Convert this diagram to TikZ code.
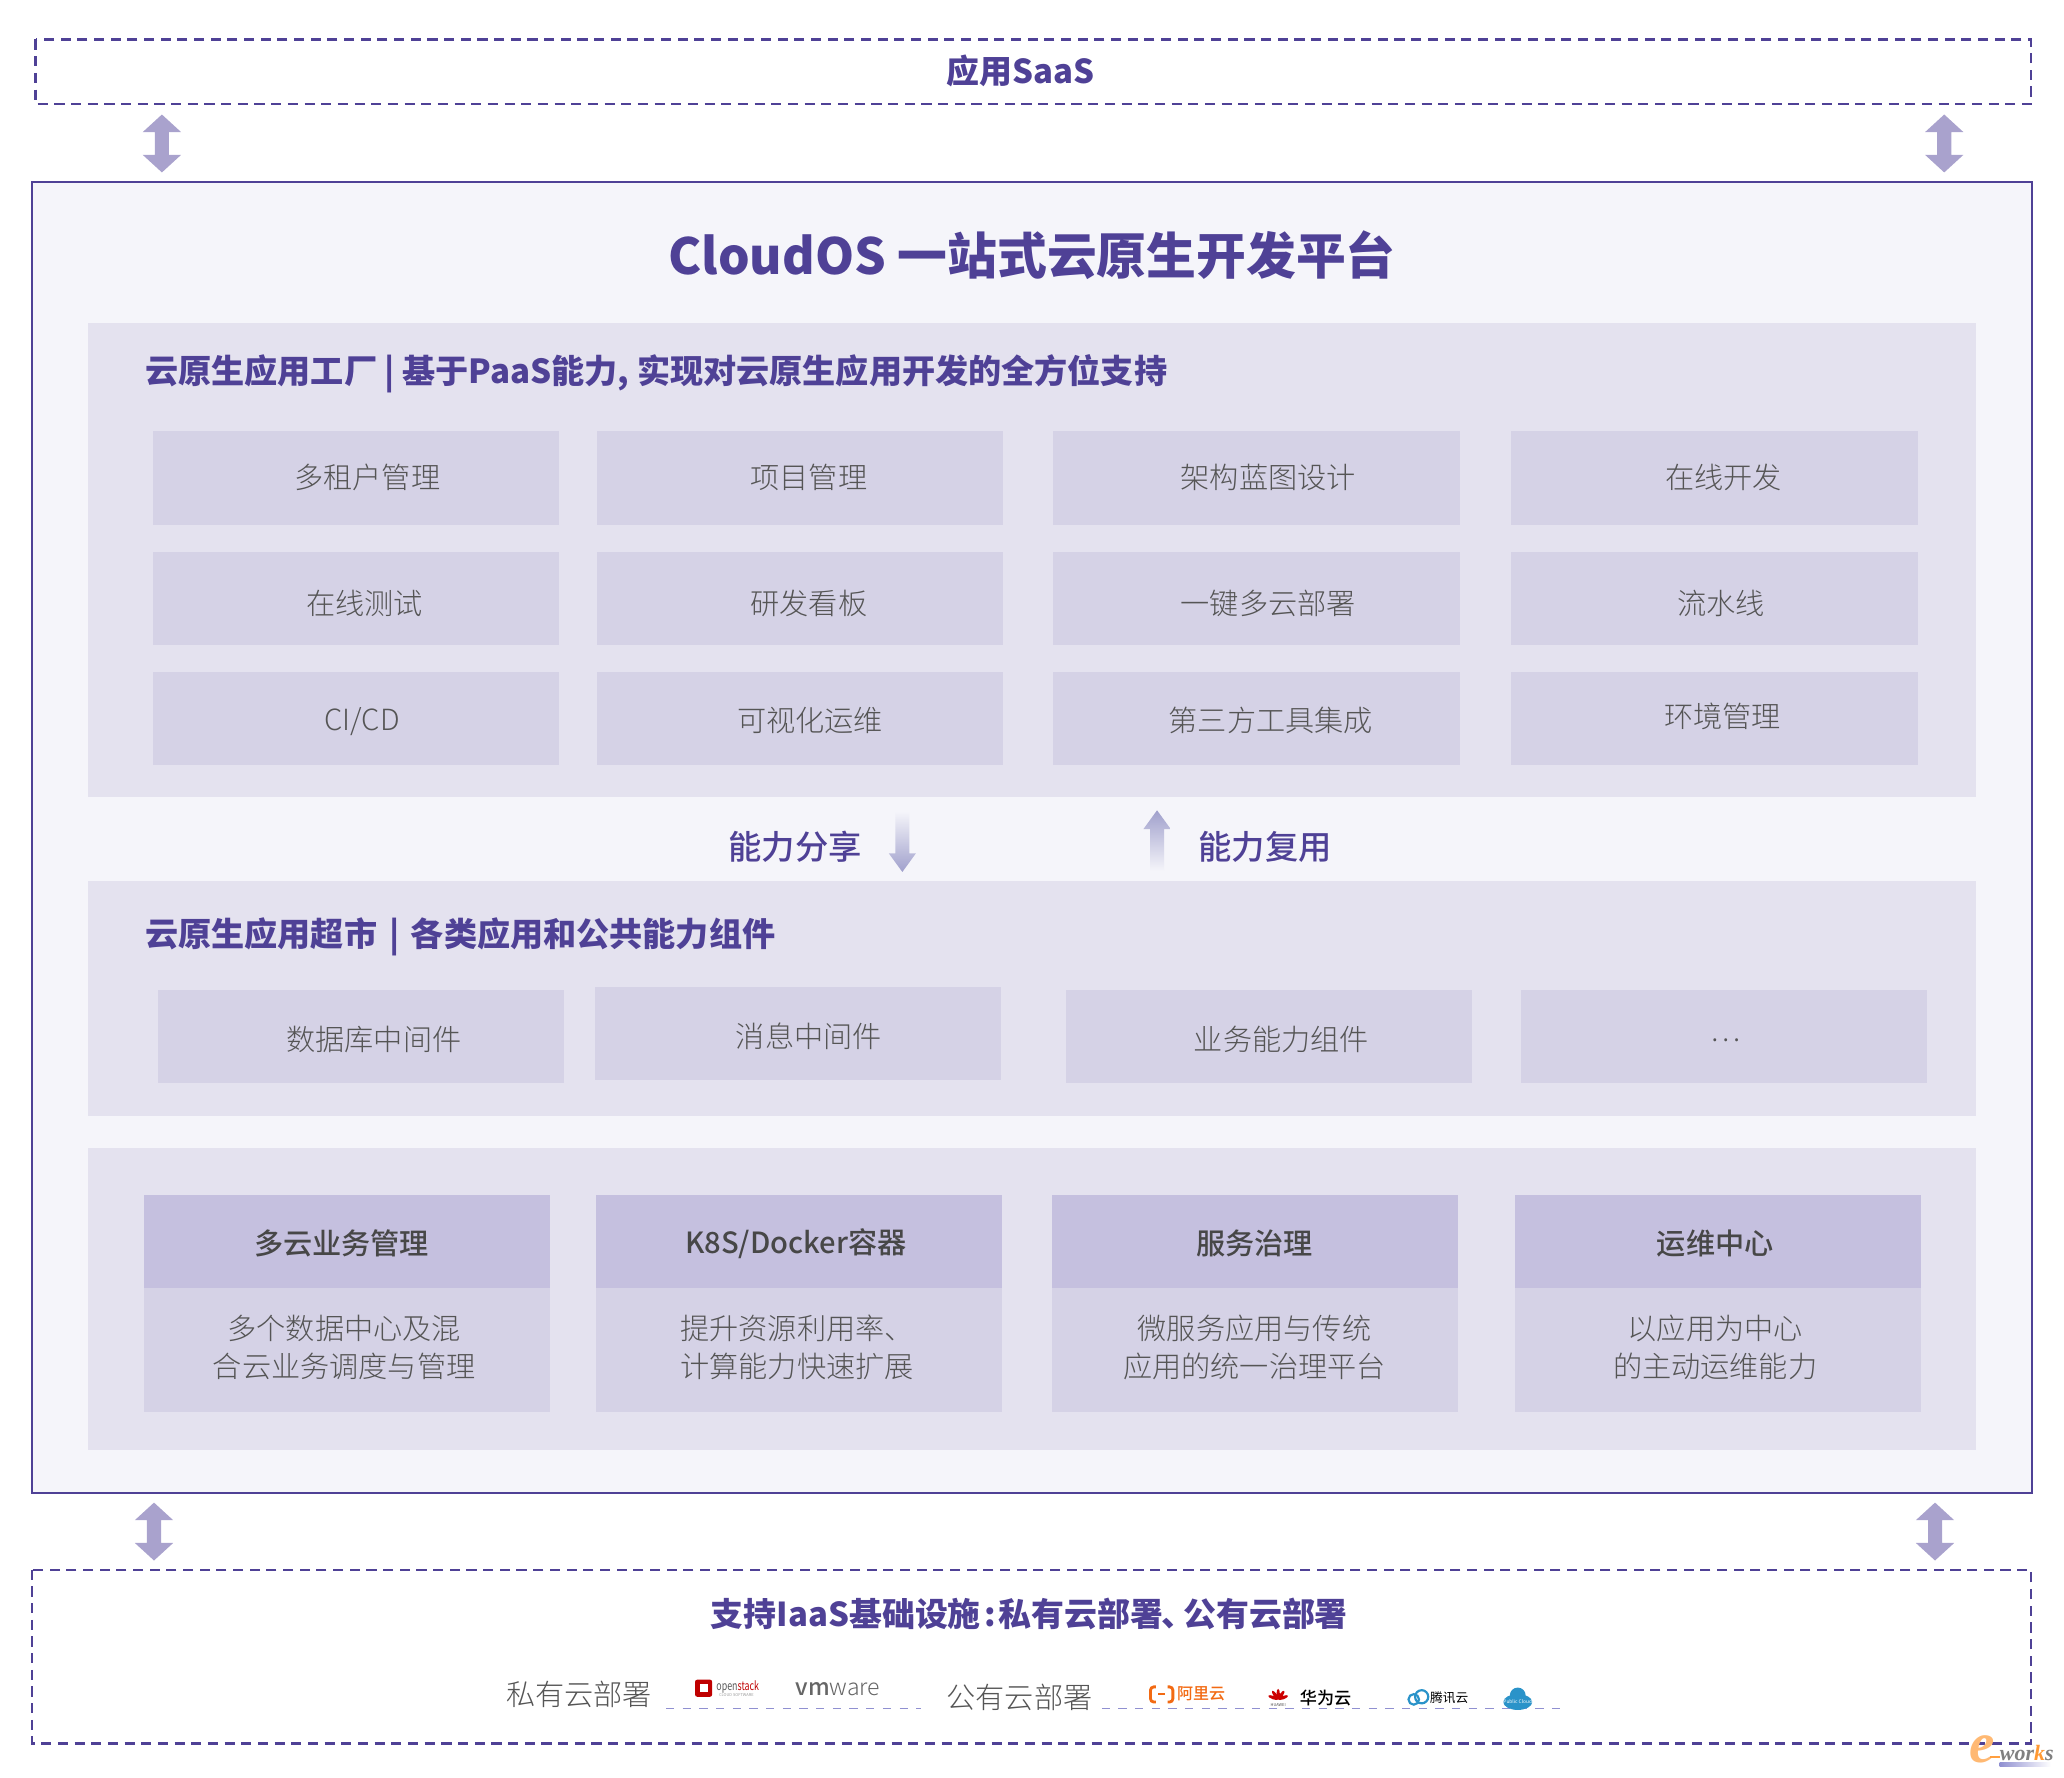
\documentclass[tikz,border=0pt]{standalone}
\usepackage{fontspec}
\usepackage{xcolor}
\usetikzlibrary{shapes.arrows}
\setmainfont{Noto Sans CJK SC}
\newfontfamily\lightfont{Noto Sans CJK SC}[UprightFont={* Light}]
\newfontfamily\mediumfont{Noto Sans CJK SC}[UprightFont={* Medium}]
\newfontfamily\logofont{Liberation Serif}
\definecolor{mainpurple}{HTML}{4F4196}
\definecolor{mainfill}{HTML}{F5F5FA}
\definecolor{panelfill}{HTML}{E4E2EF}
\definecolor{boxfill}{HTML}{D5D2E6}
\definecolor{headfill}{HTML}{C5C0DF}
\definecolor{arrowfill}{HTML}{A9A2CD}
\definecolor{fadefill}{HTML}{A0A0CC}
\definecolor{itemgray}{HTML}{555555}
\definecolor{cloudblue}{HTML}{2A93C9}
\definecolor{aliorange}{HTML}{F26A13}
\def\u{0.6pt}
\tikzset{
	dashbox/.style={draw=mainpurple, line width=0.95pt, dash pattern=on 4.6pt off 3pt},
	itembox/.style={fill=boxfill, minimum width=308.5*\u, minimum height=71*\u, inner sep=0pt},
	headbox/.style={fill=headfill, minimum width=308.5*\u, minimum height=71*\u, inner sep=0pt},
	bodybox/.style={fill=boxfill, minimum width=308.5*\u, minimum height=94.5*\u, inner sep=0pt},
	itemlabel/.style={text=itemgray, font=\lightfont\fontsize{13.3pt}{17.3pt}\selectfont, align=center},
	headlabel/.style={text=black!72, font=\mediumfont\fontsize{13.3pt}{17pt}\selectfont},
	paneltitle/.style={text=mainpurple, inner sep=0pt, font=\bfseries\fontsize{15.1pt}{18pt}\selectfont, anchor=west},
	biglabel/.style={text=mainpurple, font=\mediumfont\fontsize{15.2pt}{18pt}\selectfont},
	boldlabel/.style={text=mainpurple, font=\bfseries\fontsize{15pt}{18pt}\selectfont},
	bigarrow/.style={double arrow, fill=arrowfill, shape border rotate=90, minimum width=28.5*\u, minimum height=44*\u,
		inner sep=3pt, double arrow head extend=5.55pt, double arrow tip angle=95},
	fadedown/.style={single arrow, shape border rotate=270, minimum width=20*\u, minimum height=46*\u, inner sep=3pt,
		top color=mainfill, bottom color=fadefill, single arrow head extend=3pt, single arrow tip angle=72, anchor=tip},
	fadeup/.style={single arrow, shape border rotate=90, minimum width=20*\u, minimum height=46*\u, inner sep=3pt,
		top color=fadefill, bottom color=mainfill, single arrow head extend=3pt, single arrow tip angle=72, anchor=tip},
	logoline/.style={draw=fadefill!90!blue, line width=0.6pt, dash pattern=on 3.8pt off 3.8pt},
	logotext/.style={inner sep=0pt},
}
\begin{document}
\begin{tikzpicture}[x=\u,y=-\u]
\useasboundingbox (0,0) rectangle (1568,1350);

% top and bottom layers
\draw[dashbox] (27,30) rectangle (1543,79);
\node[boldlabel] (saas) at (775,54) {应用SaaS};
\draw[dashbox] (24,1192.5) rectangle (1543,1324.5);
\node[boldlabel] (iaas) at (782,1226) {支持IaaS基础设施\kern0.1em:\kern0.1em 私有云部署\kern-0.05em、\kern-0.35em 公有云部署};

% platform
\draw[draw=mainpurple, fill=mainfill, line width=0.9pt] (24,138) rectangle (1544,1134.5);
\node[text=mainpurple, font=\bfseries\fontsize{22.7pt}{28pt}\selectfont] (title) at (784,194) {CloudOS 一站式云原生开发平台};

\node[bigarrow] (arrowa) at (123,109) {};
\node[bigarrow] (arrowb) at (1477,109) {};
\node[bigarrow] (arrowc) at (117,1163.5) {};
\node[bigarrow] (arrowd) at (1470,1163.5) {};

\fill[panelfill] (67,245) rectangle (1501,605.5);
\fill[panelfill] (67,669) rectangle (1501,847.5);
\fill[panelfill] (67,872) rectangle (1501,1101.5);

\node[paneltitle] (factory) at (110,284) {云原生应用工厂 | 基于PaaS能力, 实现对云原生应用开发的全方位支持};
\node[paneltitle] (market) at (110,712) {云原生应用超市 \kern0.15em| \kern0.1em各类应用和公共能力组件};

% factory grid
\foreach \name/\x/\y/\tx/\ty/\t in {a/270.5/363/279/362.5/多租户管理,b/607.5/363/614.5/362.5/项目管理,c/954.5/363/963.5/362.5/架构蓝图设计,d/1302.5/363/1309.5/362.5/在线开发,
	e/270.5/454.5/277/458.5/在线测试,f/607.5/454.5/614.5/458.5/研发看板,g/954.5/454.5/963.5/458.5/一键多云部署,h/1302.5/454.5/1307.5/458.5/流水线,
	i/270.5/546/275/548/CI\slash CD,j/607.5/546/615.5/547.5/可视化运维,k/954.5/546/965.5/547.5/第三方工具集成,l/1302.5/546/1308.5/544.5/环境管理}{
	\node[itembox] (\name) at (\x,\y) {};
	\node[itemlabel] (\name label) at (\tx,\ty) {\t};
}

% sharing arrows
\node[biglabel] (share) at (604,643) {能力分享};
\node[fadedown] (sharearrow) at (685.5,663) {};
\node[fadeup] (reusearrow) at (879,615) {};
\node[biglabel] (reuse) at (961,643) {能力复用};

% market row
\foreach \name/\x/\y/\tx/\ty/\t in {m/274.5/787.5/284/789.5/数据库中间件,n/606/785/614.5/787.5/消息中间件,
	o/964/787.5/973.5/789.5/业务能力组件,p/1310/787.5/1311/790/…}{
	\node[itembox] (\name) at (\x,\y) {};
	\node[itemlabel] (\name label) at (\tx,\ty) {\t};
}

% service columns
\foreach \name/\x/\hx/\bx/\h/\t in {q/263.5/259.5/261.5/多云业务管理/{多个数据中心及混\\合云业务调度与管理},
	r/607/604.5/605.5/K8S\slash Docker容器/{提升资源利用率、\\计算能力快速扩展},
	s/953.3/953/953/服务治理/{微服务应用与传统\\应用的统一治理平台},
	t/1305/1303/1303/运维中心/{以应用为中心\\的主动运维能力}}{
	\node[headbox] (\name head) at (\x,943) {};
	\node[bodybox] (\name body) at (\x,1025.5) {};
	\node[headlabel] (\name title) at (\hx,944.5) {\h};
	\node[itemlabel] (\name text) at (\bx,1023.5) {\t};
}

% deployment logos
\node[itemlabel] (private) at (440,1287.5) {私有云部署};
\node[itemlabel] (public) at (774.5,1289.5) {公有云部署};
\draw[logoline] (506,1298) -- (700,1298);
\draw[logoline] (837,1298) -- (1186,1298);
% openstack
\fill[red!75!black, rounded corners=1pt] (528,1276) rectangle (541,1289);
\fill[white] (531.5,1279) rectangle (537.5,1285.5);
\node[logotext, text=black!65, anchor=west, xscale=0.72, font=\fontsize{5.6pt}{6pt}\selectfont] (openstack) at (544,1281.5) {open\textcolor{red!75!black}{stack}};
\node[logotext, text=black!40, anchor=west, font=\fontsize{1.8pt}{2pt}\selectfont] (opensub) at (546,1288) {CLOUD SOFTWARE};
% vmware
\node[logotext, text=black!60, font=\fontsize{10.5pt}{12pt}\selectfont] (vmware) at (636.5,1283) {{\mediumfont vm}{\lightfont ware}};
% aliyun
\draw[aliorange, line width=1.3pt, rounded corners=1.5pt] (878,1281.5) -- (874,1281.5) -- (874,1293) -- (878,1293);
\draw[aliorange, line width=1.3pt, rounded corners=1.5pt] (887,1281.5) -- (891,1281.5) -- (891,1293) -- (887,1293);
\draw[aliorange, line width=0.8pt] (880,1287) -- (885,1287);
\node[logotext, text=aliorange, font=\mediumfont\fontsize{7.3pt}{9pt}\selectfont] (aliyun) at (912.5,1287) {阿里云};
% huawei
\foreach \a in {-70,-35,0,35,70}{
	\fill[red!80!black, rotate around={\a:(971,1291)}] (971,1287) ellipse (1.3 and 4);
}
\node[logotext, text=black!70, font=\fontsize{1.8pt}{2pt}\selectfont] (huaweisub) at (971,1295) {HUAWEI};
\node[logotext, text=black, font=\mediumfont\fontsize{7.8pt}{9pt}\selectfont] (huawei) at (1007,1290) {华为云};
% tencent
\draw[cloudblue, line width=1pt] (1074,1291) circle (4);
\draw[cloudblue, line width=1pt] (1080,1289) circle (5);
\node[logotext, text=black, font=\fontsize{5.8pt}{7pt}\selectfont] (tencent) at (1101,1290) {腾讯云};
% public cloud
\fill[cloudblue] (1153,1293) ellipse (11 and 6);
\fill[cloudblue] (1153,1288) circle (6);
\node[logotext, text=white, font=\fontsize{2.2pt}{3pt}\selectfont] (cloud) at (1153,1293) {Public Cloud};

% e-works mark
\shade[left color=fadefill!90!blue, right color=white] (1519,1339) rectangle (1558,1342);
\node[logotext, text=orange!55, font=\logofont\itshape\bfseries\fontsize{26pt}{28pt}\selectfont] (emark) at (1506,1329) {e};
\fill[orange!75] (1512,1334) rectangle (1519,1335.5);
\node[logotext, text=black!50, anchor=west, font=\logofont\itshape\bfseries\fontsize{10pt}{11pt}\selectfont] (works) at (1519,1332) {wor\textcolor{orange!80}{k}s};
\end{tikzpicture}
\end{document}
